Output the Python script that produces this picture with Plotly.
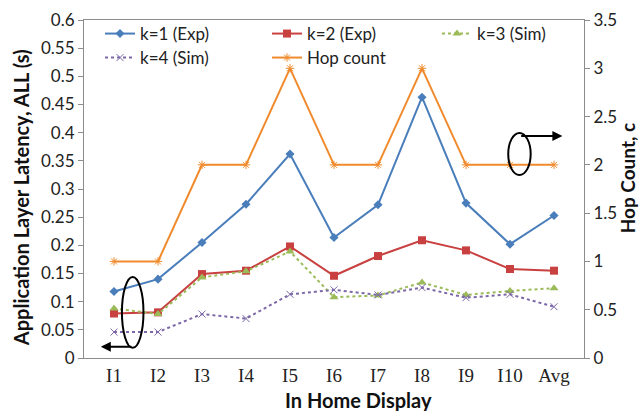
import plotly.graph_objects as go

categories = ["I1", "I2", "I3", "I4", "I5", "I6", "I7", "I8", "I9", "I10", "Avg"]
k1_exp = [0.118, 0.140, 0.205, 0.273, 0.362, 0.214, 0.272, 0.463, 0.275, 0.202, 0.253]
k2_exp = [0.079, 0.081, 0.149, 0.155, 0.198, 0.146, 0.181, 0.209, 0.191, 0.158, 0.155]
k3_sim = [0.088, 0.078, 0.143, 0.154, 0.189, 0.108, 0.111, 0.134, 0.112, 0.119, 0.124]
k4_sim = [0.046, 0.046, 0.078, 0.070, 0.113, 0.121, 0.112, 0.125, 0.107, 0.113, 0.091]
hop_count = [1, 1, 2, 2, 3, 2, 2, 3, 2, 2, 2]

left_ticks = [0, 0.05, 0.1, 0.15, 0.2, 0.25, 0.3, 0.35, 0.4, 0.45, 0.5, 0.55, 0.6]
right_ticks = [0, 0.5, 1, 1.5, 2, 2.5, 3, 3.5]

BLUE = "#4A7EBB"
RED = "#C8403F"
GREEN = "#9BBB59"
PURPLE = "#7C68A8"
ORANGE = "#F08A2C"

SANS = "Lato, Open Sans, sans-serif"

fig = go.Figure()
fig.add_trace(go.Scatter(x=categories, y=k1_exp, name="k=1 (Exp)", mode="lines+markers", legend="legend",
                         line=dict(color=BLUE, width=2), marker=dict(symbol="diamond", size=7, color=BLUE)))
fig.add_trace(go.Scatter(x=categories, y=k2_exp, name="k=2 (Exp)", mode="lines+markers", legend="legend2",
                         line=dict(color=RED, width=2), marker=dict(symbol="square", size=8, color=RED)))
fig.add_trace(go.Scatter(x=categories, y=k3_sim, name="k=3 (Sim)", mode="lines+markers", legend="legend3",
                         line=dict(color=GREEN, width=2, dash="dot"),
                         marker=dict(symbol="triangle-up", size=8, color=GREEN)))
fig.add_trace(go.Scatter(x=categories, y=k4_sim, name="k=4 (Sim)", mode="lines+markers", legend="legend4",
                         line=dict(color=PURPLE, width=2, dash="dot"),
                         marker=dict(symbol="x-thin-open", size=7, line=dict(color=PURPLE, width=1))))
fig.add_trace(go.Scatter(x=categories, y=hop_count, name="Hop count", mode="lines+markers", yaxis="y2",
                         legend="legend5", line=dict(color=ORANGE, width=2),
                         marker=dict(symbol="asterisk-open", size=7, line=dict(color=ORANGE, width=1))))

legend_font = dict(family=SANS, size=17, color="#222")
def leg(x, y):
    return dict(x=x, y=y, xanchor="left", yanchor="top", bgcolor="rgba(0,0,0,0)",
                font=legend_font, itemwidth=30)

axis_font = dict(family=SANS, size=17, color="#222")
title_font = dict(family=SANS, size=20, color="#111")

fig.update_layout(
    width=640, height=411,
    margin=dict(l=84, r=56, t=20, b=53, autoexpand=False),
    paper_bgcolor="white", plot_bgcolor="white",
    showlegend=True,
    legend=leg(0.032, 1.0118),
    legend2=leg(0.366, 1.0118),
    legend3=leg(0.706, 1.0118),
    legend4=leg(0.032, 0.9408),
    legend5=leg(0.366, 0.9408),
    xaxis=dict(type="category", showgrid=False, showline=True, linecolor="#8c8c8c", linewidth=1,
               mirror=True, ticks="", automargin=False,
               tickfont=dict(family="Liberation Serif, DejaVu Serif, serif", size=19, color="#222")),
    yaxis=dict(range=[0, 0.6], tickvals=left_ticks, ticktext=[("%g" % t) for t in left_ticks],
               showgrid=False, showline=True, linecolor="#8c8c8c", linewidth=1, automargin=False,
               ticks="outside", ticklen=5, tickcolor="#8c8c8c", tickfont=axis_font, zeroline=False),
    yaxis2=dict(range=[0, 3.5], tickvals=right_ticks, ticktext=[("%g" % t) for t in right_ticks],
                overlaying="y", side="right", showgrid=False, showline=True, linecolor="#8c8c8c",
                linewidth=1, ticks="outside", ticklen=5, tickcolor="#8c8c8c", tickfont=axis_font,
                zeroline=False, automargin=False),
)

# Axis titles
fig.add_annotation(text="<b>In Home Display</b>", xref="paper", yref="paper", x=0.548, y=-0.124,
                   xanchor="center", yanchor="middle", showarrow=False, font=title_font)
fig.add_annotation(text="<b>Application Layer Latency, ALL (s)</b>", xref="paper", yref="paper",
                   x=-0.126, y=0.473, xanchor="center", yanchor="middle", textangle=-90,
                   showarrow=False, font=title_font)
fig.add_annotation(text="<b>Hop Count, c</b>", xref="paper", yref="paper", x=1.087, y=0.533,
                   xanchor="center", yanchor="middle", textangle=-90, showarrow=False,
                   font=dict(family=SANS, size=19, color="#111"))

# Ellipse + arrow indicating left axis (k series)
fig.add_shape(type="circle", xref="x", yref="y", x0=0.18, x1=0.67, y0=0.018, y1=0.144,
              line=dict(color="black", width=2))
fig.add_annotation(xref="x", yref="y", axref="x", ayref="y", x=-0.3, y=0.02, ax=0.43, ay=0.02,
                   text="", showarrow=True, arrowhead=2, arrowsize=1, arrowwidth=2, arrowcolor="black")
# Ellipse + arrow indicating right axis (hop count)
fig.add_shape(type="circle", xref="x", yref="y2", x0=8.96, x1=9.47, y0=1.895, y1=2.33,
              line=dict(color="black", width=2))
fig.add_annotation(xref="x", yref="y2", axref="x", ayref="y2", x=10.19, y=2.3, ax=9.22, ay=2.3,
                   text="", showarrow=True, arrowhead=2, arrowsize=1, arrowwidth=2, arrowcolor="black")

fig.write_html("out.html", config={"displayModeBar": False},
               post_script="document.body.style.margin='0';document.body.style.overflow='hidden';")
